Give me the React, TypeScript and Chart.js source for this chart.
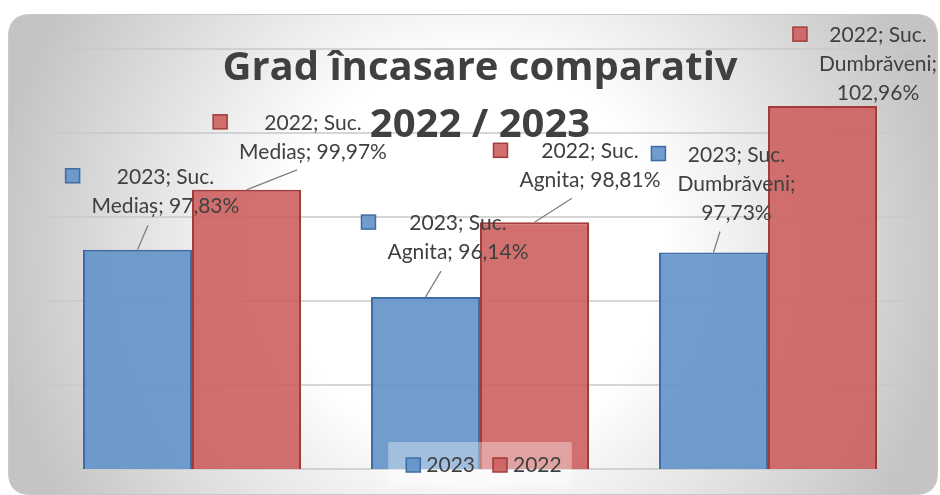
import React, { useEffect, useRef } from 'react';
import { Chart, registerables } from 'chart.js';

Chart.register(...registerables);

// ---------- data ----------
const TITLE_LINES = ['Grad încasare comparativ', '2022 / 2023'];
const CATEGORIES = ['Suc. Mediaș', 'Suc. Agnita', 'Suc. Dumbrăveni'];
const SERIES_NAMES = ['2023', '2022'];
const VALUES_2023 = [97.83, 96.14, 97.73];
const VALUES_2022 = [99.97, 98.81, 102.96];
const Y_MIN = 90;
const Y_MAX = 105;
const Y_STEP = 3;

// ---------- style / layout ----------
const W = 940;
const H = 495;
const FONT = 'Lato, "Open Sans", sans-serif';
const TITLE_FONT = '"Open Sans", Lato, sans-serif';
const TEXT_COLOR = '#404040';
const FILLS = ['rgba(100,148,202,0.92)', 'rgba(204,96,94,0.9)'];
const BORDERS = ['#3e6ca4', '#a33b39'];
// label placement relative to bar top centre: text centre dx, first baseline dy, leader end (lx, ly)
const LABEL_LAYOUT = [
  [
    { dx: 28, dy: -66, lx: 10.5, ly: -24.5 },
    { dx: 32.5, dy: -67, lx: 15.5, ly: -26 },
    { dx: 23, dy: -91, lx: 6.5, ly: -21 },
  ],
  [
    { dx: 66.5, dy: -60, lx: 50.5, ly: -20 },
    { dx: 55.5, dy: -64, lx: 37.5, ly: -24 },
    { dx: 55.5, dy: -64, lx: null, ly: null },
  ],
];

const fmt = (v: number) => v.toFixed(2).replace('.', ',') + '%';

function wrap(ctx: CanvasRenderingContext2D, text: string, maxW: number) {
  const words = text.split(' ');
  const lines: string[] = [];
  let cur = '';
  for (const w of words) {
    const t = cur ? cur + ' ' + w : w;
    if (cur && ctx.measureText(t).width > maxW) {
      lines.push(cur);
      cur = w;
    } else cur = t;
  }
  if (cur) lines.push(cur);
  return lines;
}

function roundRect(ctx: CanvasRenderingContext2D, x: number, y: number, w: number, h: number, r: number) {
  ctx.beginPath();
  ctx.moveTo(x + r, y);
  ctx.lineTo(x + w - r, y);
  ctx.quadraticCurveTo(x + w, y, x + w, y + r);
  ctx.lineTo(x + w, y + h - r);
  ctx.quadraticCurveTo(x + w, y + h, x + w - r, y + h);
  ctx.lineTo(x + r, y + h);
  ctx.quadraticCurveTo(x, y + h, x, y + h - r);
  ctx.lineTo(x, y + r);
  ctx.quadraticCurveTo(x, y, x + r, y);
  ctx.closePath();
}

const backgroundPlugin = {
  id: 'panelBg',
  beforeDraw(chart: any) {
    const ctx: CanvasRenderingContext2D = chart.ctx;
    ctx.save();
    ctx.fillStyle = '#ffffff';
    ctx.fillRect(0, 0, W, H);
    const g = ctx.createRadialGradient(472, 254, 0, 472, 254, 480);
    g.addColorStop(0, '#ffffff');
    g.addColorStop(0.4, '#ffffff');
    g.addColorStop(1, '#c4c4c4');
    roundRect(ctx, 8.5, 14.5, 929, 480, 22);
    ctx.fillStyle = g;
    ctx.fill();
    ctx.strokeStyle = '#c8c8c8';
    ctx.lineWidth = 1;
    ctx.stroke();
    ctx.restore();
  },
};

const overlayPlugin = {
  id: 'overlay',
  afterDatasetsDraw(chart: any) {
    const ctx: CanvasRenderingContext2D = chart.ctx;
    const area = chart.chartArea;
    const cx = (area.left + area.right) / 2;
    ctx.save();

    // data labels
    ctx.font = `21px ${FONT}`;
    chart.data.datasets.forEach((ds: any, di: number) => {
      const meta = chart.getDatasetMeta(di);
      meta.data.forEach((bar: any, i: number) => {
        const lay = LABEL_LAYOUT[di][i];
        const text = `${SERIES_NAMES[di]}; ${CATEGORIES[i]}; ${fmt(ds.data[i])}`;
        const lines = wrap(ctx, text, 165);
        const tx = bar.x + lay.dx;
        const ty = bar.y + lay.dy;
        if (lay.lx !== null) {
          ctx.beginPath();
          ctx.moveTo(bar.x, bar.y);
          ctx.lineTo(bar.x + lay.lx, bar.y + (lay.ly as number));
          ctx.strokeStyle = '#808080';
          ctx.lineWidth = 1.3;
          ctx.stroke();
        }
        const bw = Math.max(...lines.map((l) => ctx.measureText(l).width));
        const left = tx - bw / 2;
        ctx.fillStyle = FILLS[di];
        ctx.fillRect(left - 26, ty - 15, 14, 14);
        ctx.strokeStyle = BORDERS[di];
        ctx.lineWidth = 1.5;
        ctx.strokeRect(left - 26, ty - 15, 14, 14);
        ctx.fillStyle = TEXT_COLOR;
        ctx.textAlign = 'center';
        ctx.textBaseline = 'alphabetic';
        lines.forEach((l, k) => ctx.fillText(l, tx, ty + k * 29));
      });
    });

    // title
    ctx.font = `bold 40px ${TITLE_FONT}`;
    ctx.fillStyle = TEXT_COLOR;
    ctx.textAlign = 'center';
    ctx.fillText(TITLE_LINES[0], cx, area.top + 31);
    ctx.fillText(TITLE_LINES[1], cx, area.top + 88);

    // legend
    ctx.font = `21px ${FONT}`;
    const widths = SERIES_NAMES.map((s) => ctx.measureText(s).width);
    const itemsW = widths.reduce((a, w) => a + 14 + 6 + w, 0) + 18 * (SERIES_NAMES.length - 1);
    const boxW = itemsW + 28;
    const boxL = cx - boxW / 2;
    const boxT = area.bottom - 27;
    ctx.fillStyle = 'rgba(255,255,255,0.36)';
    ctx.fillRect(boxL, boxT, boxW, 45);
    let x = boxL + 18;
    SERIES_NAMES.forEach((s, k) => {
      ctx.fillStyle = FILLS[k];
      ctx.fillRect(x, boxT + 16, 14, 14);
      ctx.strokeStyle = BORDERS[k];
      ctx.lineWidth = 1.5;
      ctx.strokeRect(x, boxT + 16, 14, 14);
      ctx.fillStyle = TEXT_COLOR;
      ctx.textAlign = 'left';
      ctx.fillText(s, x + 20, boxT + 30);
      x += 14 + 6 + widths[k] + 18;
    });
    ctx.restore();
  },
};

export default function App() {
  const ref = useRef<HTMLCanvasElement | null>(null);
  useEffect(() => {
    let chart: Chart | null = null;
    let dead = false;
    const make = () => {
      if (dead || !ref.current) return;
      chart = new Chart(ref.current, {
        type: 'bar',
        data: {
          labels: CATEGORIES,
          datasets: [
            {
              label: SERIES_NAMES[0],
              data: VALUES_2023,
              backgroundColor: FILLS[0],
              borderColor: BORDERS[0],
              borderWidth: 2,
              categoryPercentage: 0.757,
              barPercentage: 1,
            },
            {
              label: SERIES_NAMES[1],
              data: VALUES_2022,
              backgroundColor: FILLS[1],
              borderColor: BORDERS[1],
              borderWidth: 2,
              categoryPercentage: 0.757,
              barPercentage: 1,
            },
          ],
        },
        options: {
          responsive: false,
          animation: false,
          layout: { padding: { left: 48, right: 28, top: 49, bottom: 26 } },
          plugins: {
            legend: { display: false },
            title: { display: false },
            tooltip: { enabled: false },
          },
          scales: {
            x: {
              display: false,
              offset: true,
            },
            y: {
              min: Y_MIN,
              max: Y_MAX,
              ticks: { display: false, stepSize: Y_STEP },
              border: { display: false },
              grid: { color: 'rgba(200,200,200,0.75)', lineWidth: 2, drawTicks: false },
              afterFit: (s: any) => {
                s.width = 0;
              },
            },
          },
        },
        plugins: [backgroundPlugin, overlayPlugin],
      } as any);
    };
    const fonts = (document as any).fonts;
    if (fonts && fonts.load) {
      Promise.all([fonts.load(`21px Lato`), fonts.load(`bold 40px "Open Sans"`)])
        .catch(() => null)
        .then(make);
    } else make();
    return () => {
      dead = true;
      if (chart) chart.destroy();
    };
  }, []);
  return (
    <div style={{ position: 'absolute', left: 0, top: 0, width: W, height: H }}>
      <canvas ref={ref} width={W} height={H} style={{ display: 'block', width: W, height: H }} />
    </div>
  );
}
